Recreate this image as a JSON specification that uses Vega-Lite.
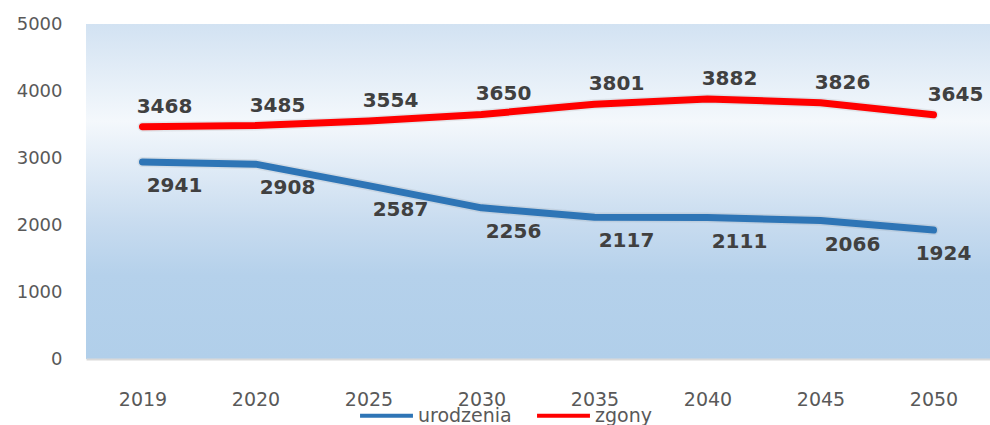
{
  "$schema": "https://vega.github.io/schema/vega-lite/v6.json",
  "width": 904,
  "height": 335,
  "autosize": {"type": "none"},
  "padding": {"left": 86, "top": 24, "right": 0, "bottom": 66},
  "background": "white",
  "view": {
    "stroke": null,
    "fill": {
      "gradient": "linear",
      "x1": 0, "y1": 0, "x2": 0, "y2": 1,
      "stops": [
        {"offset": 0, "color": "#d2e2f2"},
        {"offset": 0.29, "color": "#f4f8fc"},
        {"offset": 0.6, "color": "#c7dbef"},
        {"offset": 0.75, "color": "#b5d1eb"},
        {"offset": 1, "color": "#b1cfea"}
      ]
    }
  },
  "data": {
    "values": [
      {"rok": "2019", "seria": "urodzenia", "wartosc": 2941},
      {"rok": "2020", "seria": "urodzenia", "wartosc": 2908},
      {"rok": "2025", "seria": "urodzenia", "wartosc": 2587},
      {"rok": "2030", "seria": "urodzenia", "wartosc": 2256},
      {"rok": "2035", "seria": "urodzenia", "wartosc": 2117},
      {"rok": "2040", "seria": "urodzenia", "wartosc": 2111},
      {"rok": "2045", "seria": "urodzenia", "wartosc": 2066},
      {"rok": "2050", "seria": "urodzenia", "wartosc": 1924},
      {"rok": "2019", "seria": "zgony", "wartosc": 3468},
      {"rok": "2020", "seria": "zgony", "wartosc": 3485},
      {"rok": "2025", "seria": "zgony", "wartosc": 3554},
      {"rok": "2030", "seria": "zgony", "wartosc": 3650},
      {"rok": "2035", "seria": "zgony", "wartosc": 3801},
      {"rok": "2040", "seria": "zgony", "wartosc": 3882},
      {"rok": "2045", "seria": "zgony", "wartosc": 3826},
      {"rok": "2050", "seria": "zgony", "wartosc": 3645}
    ]
  },
  "encoding": {
    "x": {
      "field": "rok", "type": "ordinal",
      "scale": {"type": "point", "padding": 0.5},
      "axis": {
        "title": null, "labelAngle": 0, "ticks": false,
        "domainColor": "#d9d9d9", "domainWidth": 2,
        "labelPadding": 31, "labelFont": "DejaVu Sans", "labelFontSize": 19,
        "labelColor": "#595959"
      }
    },
    "y": {
      "field": "wartosc", "type": "quantitative",
      "scale": {"domain": [0, 5000]},
      "axis": {
        "title": null, "values": [0, 1000, 2000, 3000, 4000, 5000], "format": "d",
        "grid": false, "domain": false, "ticks": false,
        "labelPadding": 24, "labelFont": "DejaVu Sans", "labelFontSize": 18,
        "labelColor": "#595959"
      }
    }
  },
  "layer": [
    {
      "mark": {"type": "line", "strokeWidth": 10, "strokeCap": "round", "strokeJoin": "round", "color": "#555555", "opacity": 0.1},
      "encoding": {"detail": {"field": "seria"}}
    },
    {
      "mark": {"type": "line", "strokeWidth": 7, "strokeCap": "round", "strokeJoin": "round"},
      "encoding": {
        "color": {
          "field": "seria", "type": "nominal",
          "scale": {"domain": ["urodzenia", "zgony"], "range": ["#2e75b6", "#ff0000"]},
          "legend": {
            "title": null, "orient": "none", "direction": "horizontal",
            "legendX": 272, "legendY": 363,
            "symbolType": "stroke", "symbolSize": 2800, "symbolStrokeWidth": 4,
            "labelFont": "DejaVu Sans", "labelFontSize": 19, "labelColor": "#595959",
            "labelOffset": 3, "columnPadding": 17
          }
        }
      }
    },
    {
      "transform": [{"filter": "datum.seria == 'zgony'"}],
      "mark": {"type": "text", "dx": 22, "dy": -20, "font": "DejaVu Sans", "fontWeight": "bold", "fontSize": 20, "color": "#404040"},
      "encoding": {"text": {"field": "wartosc", "type": "quantitative", "format": "d"}}
    },
    {
      "transform": [{"filter": "datum.seria == 'urodzenia'"}],
      "mark": {"type": "text", "dx": {"expr": "datum.rok == '2050' ? 10 : 32"}, "dy": 24, "font": "DejaVu Sans", "fontWeight": "bold", "fontSize": 20, "color": "#404040"},
      "encoding": {"text": {"field": "wartosc", "type": "quantitative", "format": "d"}}
    }
  ]
}
